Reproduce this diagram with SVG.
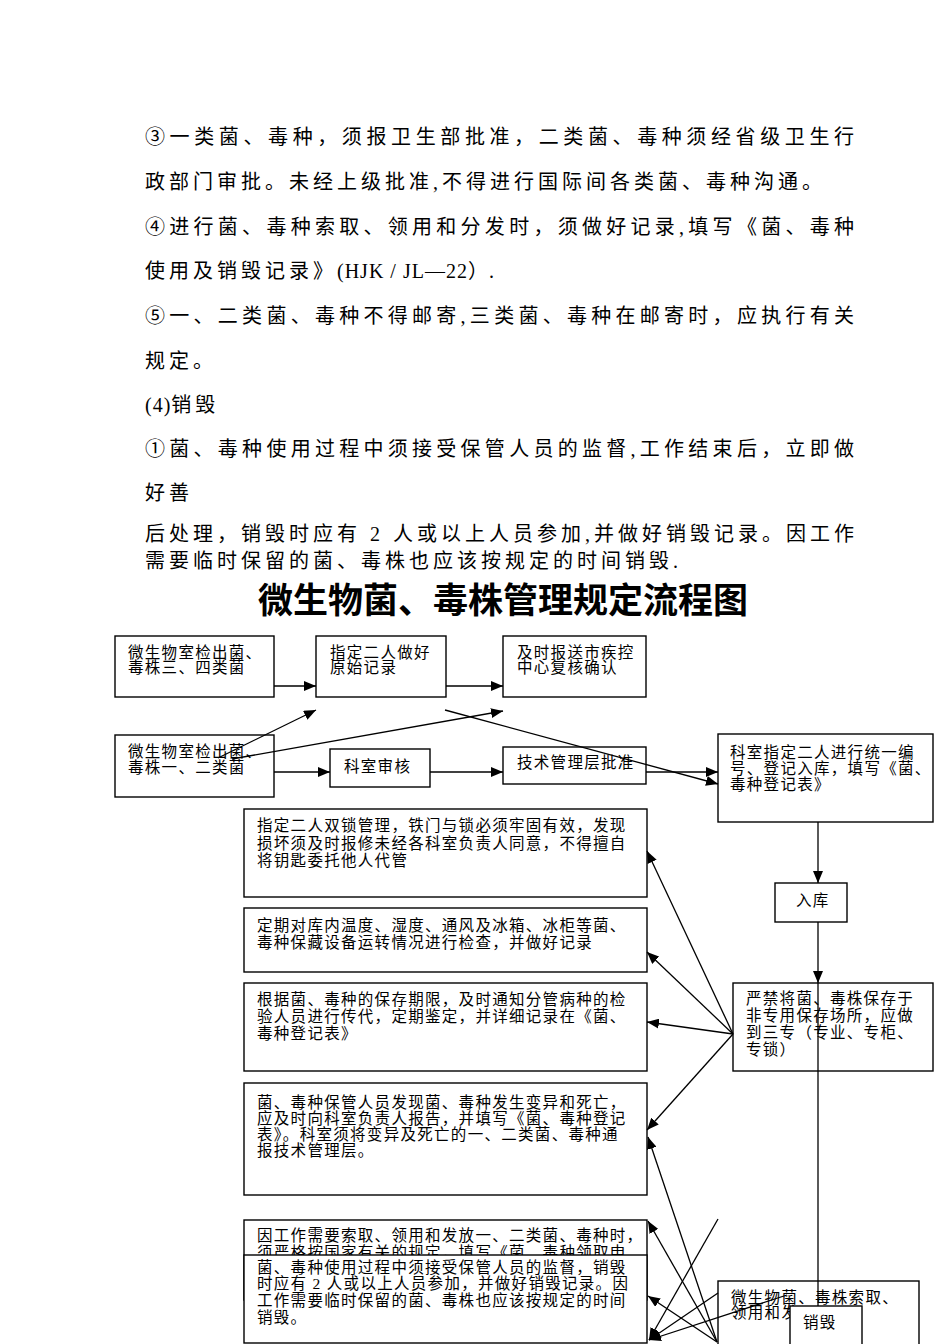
<svg xmlns="http://www.w3.org/2000/svg" width="950" height="1344" viewBox="0 0 950 1344">
<style>
.p{font-family:"Liberation Serif","Noto Sans CJK SC",serif;font-size:20px;letter-spacing:4px;fill:#000}
.l{letter-spacing:1px}
.t{font-family:"Noto Sans CJK SC",sans-serif;font-size:35px;font-weight:bold;fill:#000}
.b{fill:#fff;stroke:#000;stroke-width:1.4}
.x{font-family:"Liberation Serif","Noto Sans CJK SC",serif;font-size:15.5px;letter-spacing:1.3px;fill:#000}
.c line{stroke:#000;stroke-width:1.3}
.a{marker-end:url(#ah)}
</style>
<defs>
<marker id="ah" viewBox="0 0 12 10" refX="12" refY="5" markerWidth="12" markerHeight="10" markerUnits="userSpaceOnUse" orient="auto">
<path d="M0,0 L12,5 L0,10 z" fill="#000"/>
</marker>
</defs>
<rect width="950" height="1344" fill="#fff"/>
<g id="body">
<text class="p" x="145" y="144" textLength="713" lengthAdjust="spacing">③一类菌、毒种，须报卫生部批准，二类菌、毒种须经省级卫生行</text>
<text class="p" x="145" y="189">政部门审批。未经上级批准,不得进行国际间各类菌、毒种沟通。</text>
<text class="p" x="145" y="234" textLength="713" lengthAdjust="spacing">④进行菌、毒种索取、领用和分发时，须做好记录,填写《菌、毒种</text>
<text class="p" x="145" y="278">使用及销毁记录》<tspan class="l">(HJK / JL—22）.</tspan></text>
<text class="p" x="145" y="323" textLength="713" lengthAdjust="spacing">⑤一、二类菌、毒种不得邮寄,三类菌、毒种在邮寄时，应执行有关</text>
<text class="p" x="145" y="368">规定。</text>
<text class="p" x="145" y="412"><tspan class="l">(4)</tspan>销毁</text>
<text class="p" x="145" y="456" textLength="713" lengthAdjust="spacing">①菌、毒种使用过程中须接受保管人员的监督,工作结束后，立即做</text>
<text class="p" x="145" y="500">好善</text>
<text class="p" x="145" y="541" textLength="713" lengthAdjust="spacing">后处理，销毁时应有 2 人或以上人员参加,并做好销毁记录。因工作</text>
<text class="p" x="145" y="568">需要临时保留的菌、毒株也应该按规定的时间销毁.</text>
<text class="t" x="503" y="613" text-anchor="middle">微生物菌、毒株管理规定流程图</text>
</g>
<g id="n_a"><rect class="b" x="115" y="636" width="159" height="61"/><text class="x" x="128" y="658" letter-spacing="2.5">微生物室检出菌、</text><text class="x" x="128" y="673">毒株三、四类菌</text></g>
<g id="n_b"><rect class="b" x="316" y="636" width="130" height="61"/><text class="x" x="330" y="658">指定二人做好</text><text class="x" x="330" y="673">原始记录</text></g>
<g id="n_c"><rect class="b" x="503" y="636" width="143" height="61"/><text class="x" x="517" y="658">及时报送市疾控</text><text class="x" x="517" y="673">中心复核确认</text></g>
<g id="n_d"><rect class="b" x="115" y="735" width="159" height="62"/><text class="x" x="128" y="757" letter-spacing="2.5">微生物室检出菌、</text><text class="x" x="128" y="773">毒株一、二类菌</text></g>
<g id="n_e"><rect class="b" x="330" y="749" width="100" height="38"/><text class="x" x="344" y="772">科室审核</text></g>
<g id="n_f"><rect class="b" x="503" y="747" width="143" height="37"/><text class="x" x="517" y="768">技术管理层批准</text></g>
<g id="n_g"><rect class="b" x="718" y="734" width="215" height="88"/><text class="x" x="730" y="758" letter-spacing="2.3">科室指定二人进行统一编</text><text class="x" x="730" y="774">号、登记入库，填写《菌、</text><text class="x" x="730" y="790">毒种登记表》</text></g>
<g id="n_ku"><rect class="b" x="775" y="883" width="72" height="39"/><text class="x" x="796" y="906">入库</text></g>
<g id="n_h"><rect class="b" x="733" y="983" width="200" height="88"/><text class="x" x="746" y="1004">严禁将菌、毒株保存于</text><text class="x" x="746" y="1021">非专用保存场所，应做</text><text class="x" x="746" y="1038">到三专（专业、专柜、</text><text class="x" x="746" y="1055">专锁）</text></g>
<g id="n_1"><rect class="b" x="244" y="809" width="403" height="88"/><text class="x" x="257" y="831">指定二人双锁管理，铁门与锁必须牢固有效，发现</text><text class="x" x="257" y="849">损坏须及时报修未经各科室负责人同意，不得擅自</text><text class="x" x="257" y="866">将钥匙委托他人代管</text></g>
<g id="n_2"><rect class="b" x="244" y="908" width="403" height="64"/><text class="x" x="257" y="931">定期对库内温度、湿度、通风及冰箱、冰柜等菌、</text><text class="x" x="257" y="948">毒种保藏设备运转情况进行检查，并做好记录</text></g>
<g id="n_3"><rect class="b" x="244" y="983" width="403" height="88"/><text class="x" x="257" y="1005">根据菌、毒种的保存期限，及时通知分管病种的检</text><text class="x" x="257" y="1022">验人员进行传代，定期鉴定，并详细记录在《菌、</text><text class="x" x="257" y="1039">毒种登记表》</text></g>
<g id="n_4"><rect class="b" x="244" y="1083" width="403" height="112"/><text class="x" x="257" y="1108">菌、毒种保管人员发现菌、毒种发生变异和死亡，</text><text class="x" x="257" y="1124">应及时向科室负责人报告，并填写《菌、毒种登记</text><text class="x" x="257" y="1140">表》。科室须将变异及死亡的一、二类菌、毒种通</text><text class="x" x="257" y="1156">报技术管理层。</text></g>
<g id="n_5"><rect class="b" x="244" y="1220" width="403" height="80"/><text class="x" x="257" y="1241">因工作需要索取、领用和发放一、二类菌、毒种时，</text><text class="x" x="257" y="1258">须严格按国家有关的规定，填写《菌、毒种领取申</text></g>
<g id="n_6"><rect class="b" x="244" y="1255" width="403" height="88"/><text class="x" x="257" y="1273">菌、毒种使用过程中须接受保管人员的监督，销毁</text><text class="x" x="257" y="1289">时应有 2 人或以上人员参加，并做好销毁记录。因</text><text class="x" x="257" y="1306">工作需要临时保留的菌、毒株也应该按规定的时间</text><text class="x" x="257" y="1323">销毁。</text></g>
<g id="n_i"><rect class="b" x="718" y="1281" width="201" height="70"/><text class="x" x="731" y="1303">微生物菌、毒株索取、</text><text class="x" x="731" y="1318">领用和发</text></g>
<g id="n_j"><rect class="b" x="790" y="1306" width="72" height="45"/><text class="x" x="803" y="1328">销毁</text></g>
<g id="connectors" class="c">
<line class="a" x1="274" y1="686" x2="316" y2="686"/>
<line class="a" x1="446" y1="686" x2="503" y2="686"/>
<line class="a" x1="274" y1="772" x2="330" y2="772"/>
<line class="a" x1="430" y1="772" x2="503" y2="772"/>
<line class="a" x1="646" y1="772" x2="718" y2="772"/>
<line class="a" x1="218" y1="758" x2="316" y2="710"/>
<line class="a" x1="232" y1="759" x2="503" y2="711"/>
<line class="a" x1="445" y1="710" x2="718" y2="784"/>
<line class="a" x1="818" y1="822" x2="818" y2="883"/>
<line class="a" x1="818" y1="922" x2="818" y2="983"/>
<line x1="818" y1="983" x2="818" y2="1306"/>
<line class="a" x1="733" y1="1034" x2="647" y2="851"/>
<line class="a" x1="733" y1="1034" x2="647" y2="952"/>
<line class="a" x1="733" y1="1034" x2="647" y2="1022"/>
<line class="a" x1="733" y1="1034" x2="647" y2="1130"/>
<line class="a" x1="717" y1="1342" x2="648" y2="1137"/>
<line class="a" x1="717" y1="1342" x2="648" y2="1221"/>
<line class="a" x1="717" y1="1342" x2="648" y2="1296"/>
<line class="a" x1="718" y1="1219" x2="649" y2="1340"/>
<line class="a" x1="718" y1="1293" x2="649" y2="1340"/>
<line class="a" x1="787" y1="1295" x2="649" y2="1340"/>
</g>
</svg>
